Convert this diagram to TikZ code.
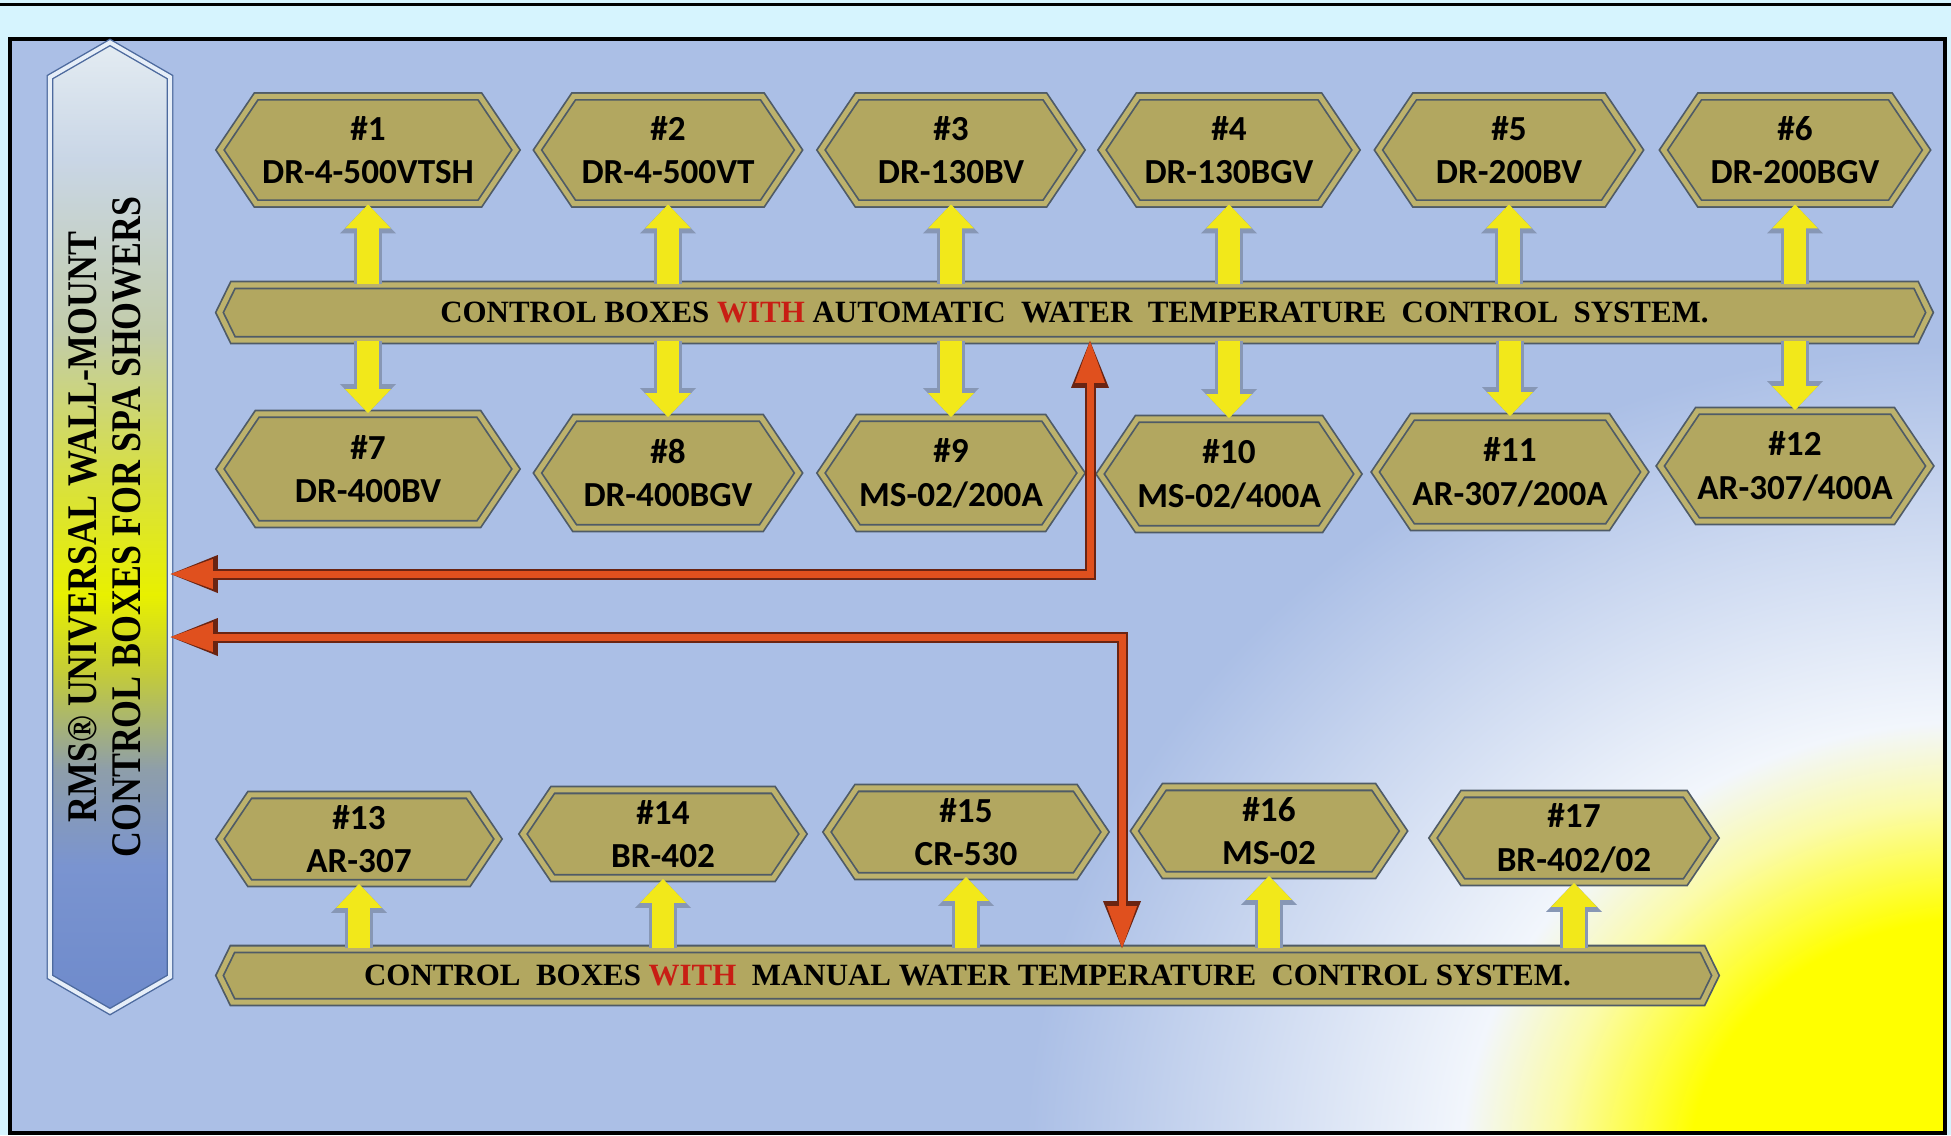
\documentclass[tikz,border=0pt]{standalone}
\usepackage{fontspec}
\setmainfont{Liberation Serif}
\newfontfamily\hexfont{Carlito}
\newfontfamily\bannerfont[FakeStretch=0.85]{Liberation Serif}
\usetikzlibrary{shapes.symbols,arrows.meta}

\definecolor{pagebg}{HTML}{D6F4FE}
\definecolor{framebg}{HTML}{ABBFE6}
\definecolor{hexfill}{HTML}{B2A760}
\definecolor{hexband}{HTML}{BDB26C}
\definecolor{hexedge}{HTML}{4F5B66}
\definecolor{yfill}{HTML}{F2E81A}
\definecolor{yedge}{HTML}{8797B5}
\definecolor{redmain}{HTML}{E0501E}
\definecolor{reddark}{HTML}{6A2412}
\definecolor{withred}{HTML}{C81E14}
\definecolor{banedge}{HTML}{4D6A9E}
\definecolor{banbevel}{HTML}{E6EEF8}
\definecolor{bantop}{HTML}{E4ECF2}
\definecolor{banhigh}{HTML}{C9D6E6}
\definecolor{bangrey}{HTML}{C2CCAA}
\definecolor{banlime}{HTML}{D8E040}
\definecolor{banyellow}{HTML}{E8F000}
\definecolor{banolive}{HTML}{C4CC38}
\definecolor{banslate}{HTML}{8E9EAA}
\definecolor{banblue}{HTML}{7A94D0}
\definecolor{banlow}{HTML}{6E8ACB}
\definecolor{sunyellow}{HTML}{FFFF00}
\definecolor{sunpale}{HTML}{FBFBA8}
\definecolor{sunwhite}{HTML}{F2F6FC}

% banner colours, bottom to top
\pgfdeclareverticalshading{bannershade}{100bp}{color(0bp)=(banlow); color(25bp)=(banlow);
  color(32.5bp)=(banblue); color(37.5bp)=(banslate); color(42.5bp)=(banolive);
  color(46.5bp)=(banyellow); color(52.5bp)=(banlime); color(60bp)=(bangrey);
  color(69bp)=(banhigh); color(75bp)=(bantop); color(100bp)=(bantop)}
% glow in the lower right corner
\pgfdeclareradialshading{sunglow}{\pgfpoint{0bp}{0bp}}{color(0bp)=(sunyellow);
  color(7.5bp)=(sunyellow); color(11bp)=(sunpale); color(13.5bp)=(sunwhite);
  color(25bp)=(framebg); color(50bp)=(framebg)}

\tikzset{
  hexbox/.style={signal, signal to=east and west, signal pointer angle=112,
    fill=hexfill, draw=hexedge, line width=0.5pt, double=hexband, double distance=0.05cm,
    inner sep=0pt, align=center, font=\hexfont\bfseries\fontsize{10}{12.4}\selectfont},
  barbox/.style={signal, signal to=east and west, signal pointer angle=128,
    fill=hexfill, draw=hexedge, line width=0.5pt, double=hexband, double distance=0.05cm,
    inner sep=0pt, font=\bfseries\fontsize{8.8}{10}\selectfont},
  banner/.style={signal, signal to=north and south, signal pointer angle=120,
    minimum width=1.2cm, minimum height=9.5cm, inner sep=0pt, shade, shading=bannershade,
    draw=banedge, line width=0.4pt, double=banbevel, double distance=0.04cm,
    font=\bannerfont\bfseries\fontsize{12}{12.5}\selectfont},
  yarrow/.style={draw=yfill, line width=0.22cm,
    -{Triangle[width=0.46cm,length=0.24cm,line width=0pt]},
    preaction={draw=yedge, line width=0.28cm,
      -{Triangle[width=0.56cm,length=0.29cm,line width=0pt]}}},
  redarrow/.style={draw=redmain, line width=0.07cm,
    {Triangle[width=0.30cm,length=0.42cm,line width=0pt]}-{Triangle[width=0.30cm,length=0.42cm,line width=0pt]},
    preaction={draw=reddark, line width=0.11cm,
      {Triangle[width=0.38cm,length=0.47cm,line width=0pt]}-{Triangle[width=0.38cm,length=0.47cm,line width=0pt]}}}
}

\begin{document}
\begin{tikzpicture}[x=0.01cm,y=-0.01cm]
\useasboundingbox (0,0) rectangle (1951,1135);
% page and frame
\fill[pagebg] (0,0) rectangle (1951,1135);
\draw[line width=0.03cm] (0,4) -- (1951,4);
\fill[framebg] (10,39) rectangle (1945,1133);
\begin{scope}
  \clip (10,39) rectangle (1945,1133);
  \shade[shading=sunglow] (1975,1165) ellipse (9.5cm and 8.2cm);
\end{scope}
\draw[line width=0.035cm] (10,39) rectangle (1945,1133);

\node[banner] (banner) at (110,527) {\rotatebox{90}{\begin{tabular}{@{}c@{}}RMS® UNIVERSAL WALL-MOUNT\\CONTROL BOXES FOR SPA SHOWERS\end{tabular}}};

\node[barbox, minimum width=17.09cm, minimum height=0.55cm] (bar1) at (1074.5,312.5)
  {CONTROL BOXES \textcolor{withred}{WITH} AUTOMATIC~~WATER~~TEMPERATURE~~CONTROL~~SYSTEM.};
\node[barbox, minimum width=14.95cm, minimum height=0.53cm] (bar2) at (967.5,975.5)
  {CONTROL~~BOXES \textcolor{withred}{WITH}~~MANUAL WATER TEMPERATURE~~CONTROL SYSTEM.};

\foreach \n/\x/\w/\lbl in {1/368/296/DR-4-500VTSH, 2/668/261/DR-4-500VT, 3/951/260/DR-130BV,
    4/1229/254/DR-130BGV, 5/1509/261/DR-200BV, 6/1795/263/DR-200BGV} {
  \node[hexbox, minimum width=\w*0.01cm, minimum height=1.07cm] (h\n) at (\x,150) {\#\n\\\lbl};
}
\foreach \n/\x/\y/\w/\lbl in {7/368/469/296/DR-400BV, 8/668/473/261/DR-400BGV, 9/951/473/260/{MS-02/200A},
    10/1229/474/254/{MS-02/400A}, 11/1510/472/265/{AR-307/200A}, 12/1795/466/263/{AR-307/400A}} {
  \node[hexbox, minimum width=\w*0.01cm, minimum height=1.10cm] (h\n) at (\x,\y) {\#\n\\\lbl};
}
\foreach \n/\x/\y/\w/\lbl in {13/359/839/278/AR-307, 14/663/834/280/BR-402, 15/966/832/278/CR-530,
    16/1269/831/269/MS-02, 17/1574/838/282/{BR-402/02}} {
  \node[hexbox, minimum width=\w*0.01cm, minimum height=0.88cm] (h\n) at (\x,\y) {\#\n\\\lbl};
}

\foreach \n in {1,...,6} \draw[yarrow] (bar1.north -| h\n) -- (h\n.south);
\foreach \n in {7,...,12} \draw[yarrow] (bar1.south -| h\n) -- (h\n.north);
\foreach \n in {13,...,17} \draw[yarrow] (bar2.north -| h\n) -- (h\n.south);

\coordinate (bend1) at (1090,574);
\coordinate (bend2) at (1122,637);
\draw[redarrow] (banner.east |- bend1) -| (bar1.south -| bend1);
\draw[redarrow] (banner.east |- bend2) -| (bar2.north -| bend2);
\end{tikzpicture}
\end{document}
